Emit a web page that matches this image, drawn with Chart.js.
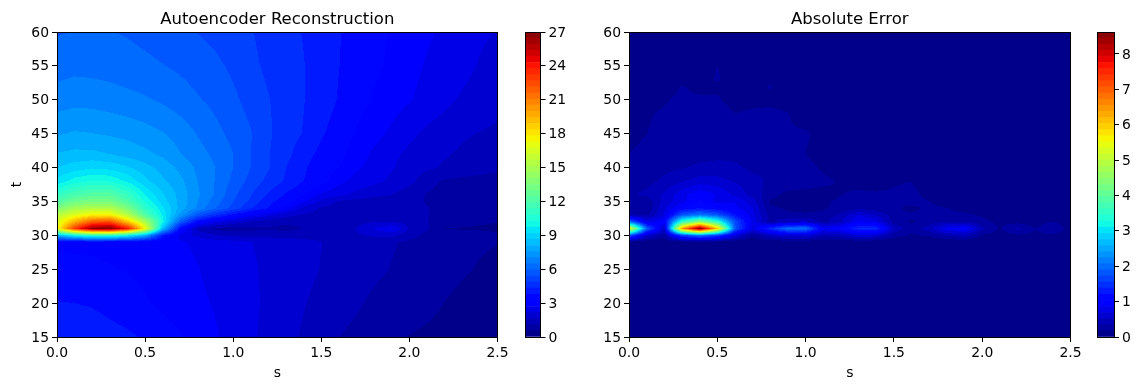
<!DOCTYPE html>
<html>
<head>
<meta charset="utf-8">
<title>Autoencoder Reconstruction</title>
<script src="https://cdn.jsdelivr.net/npm/chart.js@4"></script>
<style>
  html, body { margin: 0; padding: 0; background: #fff; }
  #wrap { position: relative; width: 1141px; height: 390px; overflow: hidden; }
  canvas { position: absolute; top: 0; }
</style>
</head>
<body>
<div id="wrap">
  <canvas id="reconChart" width="514" height="390" style="left:0"></canvas>
  <canvas id="reconBar" width="60" height="390" style="left:515px"></canvas>
  <canvas id="errorChart" width="514" height="390" style="left:572px"></canvas>
  <canvas id="errorBar" width="54" height="390" style="left:1087px"></canvas>
</div>
<script>
const sGrid = [0, 0.1, 0.2, 0.3, 0.4, 0.5, 0.6, 0.7, 0.8, 0.9, 1.0, 1.1, 1.2, 1.3, 1.4, 1.5, 1.6, 1.7, 1.8, 1.9, 2.0, 2.1, 2.2, 2.3, 2.4, 2.5];

const sTicks = [0, 0.5, 1, 1.5, 2, 2.5];
const tTicks = [15, 20, 25, 30, 35, 40, 45, 50, 55, 60];
const reconBarTicks = [0, 3, 6, 9, 12, 15, 18, 21, 24, 27];
const errorBarTicks = [0, 1, 2, 3, 4, 5, 6, 7, 8];

const reconMax = 27;
const errorMax = 8.62;
const levelCount = 50;

// rows go with reconT, columns with sGrid
const reconT = [15, 20, 25, 29, 30, 31, 32, 33, 34, 35, 36, 38, 40, 42, 45, 50, 55, 60];
const reconValues = [
  [4.3, 4.25, 4.15, 4.0, 3.88, 3.72, 3.52, 3.3, 3.05, 2.75, 2.5, 2.25, 2.0, 1.78, 1.55, 1.3, 1.08, 0.95, 0.8, 0.65, 0.52, 0.45, 0.38, 0.3, 0.25, 0.2],
  [3.8, 3.78, 3.72, 3.58, 3.45, 3.3, 3.12, 2.95, 2.8, 2.65, 2.5, 2.3, 2.03, 1.85, 1.65, 1.45, 1.28, 1.15, 0.98, 0.88, 0.78, 0.68, 0.53, 0.42, 0.34, 0.27],
  [3.45, 3.42, 3.38, 3.28, 3.22, 3.1, 3.0, 2.88, 2.72, 2.55, 2.4, 2.24, 2.05, 1.9, 1.77, 1.6, 1.45, 1.32, 1.18, 1.06, 0.95, 0.83, 0.7, 0.6, 0.5, 0.42],
  [3.1, 3.1, 3.1, 3.05, 3.0, 2.95, 2.85, 2.75, 2.6, 2.45, 2.32, 2.18, 2.0, 1.88, 1.75, 1.63, 1.5, 1.38, 1.25, 1.12, 1.0, 0.88, 0.78, 0.68, 0.6, 0.55],
  [8, 10, 11, 11, 10, 8, 4, 2.5, 2.0, 1.65, 1.5, 1.45, 1.45, 1.45, 1.45, 1.5, 1.5, 1.55, 1.7, 1.75, 1.25, 0.95, 0.8, 0.75, 0.7, 0.6],
  [17, 23, 26.5, 27, 24, 17.5, 8.5, 3.5, 1.5, 0.9, 0.8, 0.9, 1.0, 0.85, 1.1, 1.2, 1.35, 1.65, 2.2, 2.75, 1.6, 1.15, 0.53, 0.5, 0.48, 0.45],
  [16.5, 19.5, 22, 22.5, 19, 15, 10, 5.8, 3.4, 2.5, 1.95, 1.55, 1.35, 1.25, 1.25, 1.25, 1.3, 1.45, 1.6, 1.6, 1.35, 1.1, 0.85, 0.7, 0.6, 0.55],
  [15.5, 16.8, 17.7, 17.7, 15.5, 12.2, 9.6, 7.4, 5.6, 4.5, 3.6, 2.9, 2.3, 1.8, 1.55, 1.4, 1.3, 1.2, 1.25, 1.25, 1.2, 1.1, 0.9, 0.8, 0.7, 0.65],
  [13.5, 14.8, 15.3, 15.3, 13.5, 10.9, 9.3, 7.9, 6.9, 5.94, 5.2, 4.35, 3.75, 3.0, 2.0, 1.55, 1.4, 1.3, 1.25, 1.2, 1.15, 1.1, 0.95, 0.85, 0.8, 0.7],
  [12, 13, 13.4, 13.4, 12, 10.2, 8.9, 7.9, 7, 6.2, 5.4, 4.75, 3.95, 3.5, 2.8, 2.0, 1.55, 1.4, 1.35, 1.3, 1.2, 1.05, 0.9, 0.85, 0.8, 0.75],
  [11, 11.8, 12.2, 12.2, 11.2, 9.7, 8.7, 7.9, 7.1, 6.4, 5.55, 4.9, 4.25, 3.7, 3.3, 2.6, 2.3, 2.0, 1.75, 1.62, 1.3, 1.05, 0.95, 0.88, 0.8, 0.75],
  [9.3, 10, 10.3, 10.2, 9.6, 8.8, 8.2, 7.7, 7.0, 6.45, 5.8, 5.2, 4.7, 4.25, 3.78, 3.5, 2.85, 2.5, 2.3, 2.05, 1.8, 1.25, 1.0, 0.92, 0.85, 0.8],
  [8.64, 8.9, 9.1, 9.0, 8.7, 8.3, 7.9, 7.4, 6.9, 6.48, 5.94, 5.4, 4.9, 4.32, 3.85, 3.5, 3.26, 2.8, 2.5, 2.2, 1.95, 1.72, 1.55, 1.45, 1.35, 1.25],
  [8.14, 8.24, 8.24, 8.09, 7.89, 7.69, 7.44, 7.04, 6.69, 6.34, 5.94, 5.39, 4.89, 4.49, 3.99, 3.64, 3.39, 2.99, 2.59, 2.29, 2.04, 1.86, 1.67, 1.54, 1.44, 1.34],
  [7.49, 7.62, 7.57, 7.49, 7.39, 7.24, 7.06, 6.79, 6.44, 6.09, 5.79, 5.44, 4.94, 4.59, 4.29, 3.84, 3.54, 3.19, 2.89, 2.59, 2.29, 2.04, 1.89, 1.69, 1.6, 1.52],
  [6.74, 6.84, 6.82, 6.74, 6.64, 6.54, 6.39, 6.19, 5.99, 5.79, 5.52, 5.19, 4.89, 4.59, 4.34, 4.04, 3.74, 3.44, 3.19, 2.94, 2.74, 2.51, 2.29, 2.09, 1.94, 1.79],
  [6.24, 6.32, 6.29, 6.24, 6.16, 6.06, 5.96, 5.84, 5.69, 5.52, 5.29, 4.99, 4.74, 4.54, 4.34, 4.06, 3.79, 3.54, 3.34, 3.14, 2.89, 2.64, 2.49, 2.32, 2.12, 1.94],
  [5.89, 5.96, 5.99, 5.96, 5.89, 5.79, 5.69, 5.54, 5.39, 5.24, 5.04, 4.89, 4.69, 4.49, 4.29, 4.04, 3.81, 3.59, 3.39, 3.19, 2.99, 2.79, 2.59, 2.39, 2.24, 2.14]
];

// rows go with errorT, columns with sGrid
const errorT = [15, 20, 25, 29, 30, 31, 32, 33, 34, 35, 36, 38, 40, 42, 45, 48, 50, 52, 53, 55, 60];
const errorValues = [
  [0.02, 0.02, 0.02, 0.02, 0.02, 0.02, 0.02, 0.02, 0.02, 0.02, 0.02, 0.02, 0.02, 0.02, 0.02, 0.02, 0.02, 0.02, 0.02, 0.02, 0.02, 0.02, 0.02, 0.02, 0.02, 0.02],
  [0.02, 0.02, 0.02, 0.02, 0.02, 0.02, 0.02, 0.02, 0.02, 0.02, 0.02, 0.02, 0.02, 0.02, 0.02, 0.02, 0.02, 0.02, 0.02, 0.02, 0.02, 0.02, 0.02, 0.02, 0.02, 0.02],
  [0.02, 0.02, 0.02, 0.02, 0.02, 0.02, 0.02, 0.02, 0.02, 0.02, 0.02, 0.02, 0.02, 0.02, 0.02, 0.02, 0.02, 0.02, 0.02, 0.02, 0.02, 0.02, 0.02, 0.02, 0.02, 0.02],
  [0.03, 0.03, 0.03, 0.03, 0.03, 0.03, 0.03, 0.03, 0.03, 0.03, 0.03, 0.03, 0.03, 0.03, 0.03, 0.03, 0.03, 0.03, 0.03, 0.03, 0.03, 0.03, 0.03, 0.03, 0.03, 0.03],
  [1.8, 0.6, 0.25, 1.6, 2.1, 1.6, 0.7, 0.2, 0.5, 0.7, 0.7, 0.4, 0.45, 0.7, 0.6, 0.25, 0.15, 0.2, 0.35, 0.45, 0.15, 0.08, 0.15, 0.12, 0.14, 0.05],
  [5.6, 1.9, 0.5, 6.4, 8.6, 6.0, 1.8, 0.75, 1.4, 2.0, 2.0, 0.9, 1.0, 1.4, 1.4, 0.5, 0.22, 0.45, 0.85, 1.0, 0.4, 0.15, 0.4, 0.18, 0.36, 0.06],
  [2.0, 0.8, 1.0, 3.5, 4.5, 3.5, 1.7, 0.8, 0.3, 0.5, 0.55, 0.3, 0.5, 0.9, 0.8, 0.25, 0.15, 0.25, 0.35, 0.35, 0.22, 0.13, 0.1, 0.05, 0.18, 0.03],
  [0.4, 0.3, 0.7, 1.8, 2.1, 1.8, 1.2, 0.75, 0.28, 0.2, 0.2, 0.22, 0.4, 0.7, 0.5, 0.25, 0.2, 0.2, 0.2, 0.2, 0.15, 0.08, 0.05, 0.04, 0.03, 0.02],
  [0.25, 0.2, 0.65, 1.05, 1.2, 1.05, 0.9, 0.7, 0.2, 0.15, 0.12, 0.15, 0.22, 0.3, 0.25, 0.2, 0.12, 0.22, 0.18, 0.12, 0.12, 0.08, 0.1, 0.14, 0.04, 0.02],
  [0.2, 0.2, 0.6, 0.8, 1.05, 0.8, 0.85, 0.6, 0.15, 0.08, 0.1, 0.15, 0.2, 0.23, 0.22, 0.2, 0.25, 0.18, 0.05, 0.03, 0.03, 0.03, 0.02, 0.02, 0.02, 0.02],
  [0.3, 0.4, 0.55, 0.8, 1.0, 0.85, 0.65, 0.45, 0.25, 0.1, 0.08, 0.1, 0.17, 0.2, 0.2, 0.2, 0.24, 0.1, 0.03, 0.02, 0.02, 0.02, 0.02, 0.02, 0.02, 0.02],
  [0.25, 0.28, 0.38, 0.5, 0.6, 0.58, 0.5, 0.42, 0.3, 0.35, 0.3, 0.22, 0.15, 0.12, 0.08, 0.15, 0.17, 0.03, 0.02, 0.02, 0.02, 0.02, 0.02, 0.02, 0.02, 0.02],
  [0.2, 0.27, 0.3, 0.33, 0.38, 0.4, 0.38, 0.3, 0.3, 0.28, 0.24, 0.14, 0.06, 0.03, 0.02, 0.02, 0.02, 0.02, 0.02, 0.02, 0.02, 0.02, 0.02, 0.02, 0.02, 0.02],
  [0.172, 0.24, 0.25, 0.26, 0.28, 0.3, 0.3, 0.27, 0.25, 0.23, 0.17, 0.08, 0.03, 0.02, 0.02, 0.02, 0.02, 0.02, 0.02, 0.02, 0.02, 0.02, 0.02, 0.02, 0.02, 0.02],
  [0.1, 0.17, 0.24, 0.26, 0.27, 0.28, 0.27, 0.25, 0.22, 0.2, 0.2, 0.1, 0.02, 0.02, 0.02, 0.02, 0.02, 0.02, 0.02, 0.02, 0.02, 0.02, 0.02, 0.02, 0.02, 0.02],
  [0.06, 0.15, 0.2, 0.24, 0.25, 0.24, 0.17, 0.2, 0.22, 0.18, 0.05, 0.02, 0.02, 0.02, 0.02, 0.02, 0.02, 0.02, 0.02, 0.02, 0.02, 0.02, 0.02, 0.02, 0.02, 0.02],
  [0.04, 0.08, 0.15, 0.22, 0.2, 0.19, 0.12, 0.12, 0.12, 0.08, 0.03, 0.02, 0.02, 0.02, 0.02, 0.02, 0.02, 0.02, 0.02, 0.02, 0.02, 0.02, 0.02, 0.02, 0.02, 0.02],
  [0.02, 0.04, 0.08, 0.18, 0.12, 0.14, 0.08, 0.1, 0.19, 0.05, 0.02, 0.02, 0.02, 0.02, 0.02, 0.02, 0.02, 0.02, 0.02, 0.02, 0.02, 0.02, 0.02, 0.02, 0.02, 0.02],
  [0.02, 0.02, 0.05, 0.08, 0.1, 0.19, 0.1, 0.05, 0.1, 0.03, 0.02, 0.02, 0.02, 0.02, 0.02, 0.02, 0.02, 0.02, 0.02, 0.02, 0.02, 0.02, 0.02, 0.02, 0.02, 0.02],
  [0.02, 0.02, 0.03, 0.04, 0.06, 0.175, 0.05, 0.03, 0.03, 0.02, 0.02, 0.02, 0.02, 0.02, 0.02, 0.02, 0.02, 0.02, 0.02, 0.02, 0.02, 0.02, 0.02, 0.02, 0.02, 0.02],
  [0.02, 0.02, 0.02, 0.02, 0.02, 0.02, 0.02, 0.02, 0.02, 0.02, 0.02, 0.02, 0.02, 0.02, 0.02, 0.02, 0.02, 0.02, 0.02, 0.02, 0.02, 0.02, 0.02, 0.02, 0.02, 0.02]
];

const fontFamily = "'DejaVu Sans', sans-serif";
Chart.defaults.color = '#000';
Chart.defaults.font.family = fontFamily;
Chart.defaults.font.size = 13.9;

// matplotlib jet
function ramp(stops, x) {
  for (let i = 1; i < stops.length; i++) {
    if (x <= stops[i][0]) {
      const a = stops[i - 1], b = stops[i];
      return a[1] + (b[1] - a[1]) * (x - a[0]) / (b[0] - a[0]);
    }
  }
  return stops[stops.length - 1][1];
}
function jet(x) {
  return [
    ramp([[0, 0], [0.35, 0], [0.66, 1], [0.89, 1], [1, 0.5]], x) * 255,
    ramp([[0, 0], [0.125, 0], [0.375, 1], [0.64, 1], [0.91, 0], [1, 0]], x) * 255,
    ramp([[0, 0.5], [0.11, 1], [0.34, 1], [0.65, 0], [1, 0]], x) * 255
  ];
}
function bandColor(k) {
  return jet((k + 0.5) / levelCount);
}

function findCell(list, v) {
  let i = 0;
  while (i < list.length - 2 && v > list[i + 1]) i++;
  return i;
}

// filled contour bands, painted per pixel through the chart's own scales
const contourPlugin = {
  id: 'contourFill',
  beforeDatasetsDraw(chart) {
    const o = chart.options.plugins.contourFill;
    const area = chart.chartArea;
    const x = chart.scales.x, y = chart.scales.y;
    const left = Math.floor(area.left), top = Math.floor(area.top);
    const w = Math.ceil(area.right) - left, h = Math.ceil(area.bottom) - top;
    const img = chart.ctx.createImageData(w, h);
    const step = o.max / levelCount;
    for (let py = 0; py < h; py++) {
      const t = y.getValueForPixel(top + py + 0.5);
      const j = findCell(o.rows, t);
      const ft = Math.min(1, Math.max(0, (t - o.rows[j]) / (o.rows[j + 1] - o.rows[j])));
      for (let px = 0; px < w; px++) {
        const s = x.getValueForPixel(left + px + 0.5);
        const i = findCell(sGrid, s);
        const fs = Math.min(1, Math.max(0, (s - sGrid[i]) / (sGrid[i + 1] - sGrid[i])));
        const v = o.values[j][i] * (1 - fs) * (1 - ft) + o.values[j][i + 1] * fs * (1 - ft) +
                  o.values[j + 1][i] * (1 - fs) * ft + o.values[j + 1][i + 1] * fs * ft;
        const k = Math.min(levelCount - 1, Math.floor(v / step));
        const c = bandColor(k);
        const n = (py * w + px) * 4;
        img.data[n] = c[0];
        img.data[n + 1] = c[1];
        img.data[n + 2] = c[2];
        img.data[n + 3] = 255;
      }
    }
    chart.ctx.putImageData(img, left, top);
  }
};

const framePlugin = {
  id: 'frame',
  afterDatasetsDraw(chart) {
    const a = chart.chartArea, ctx = chart.ctx;
    ctx.save();
    ctx.strokeStyle = '#000';
    ctx.lineWidth = 1;
    const x0 = Math.floor(a.left) + 0.5, x1 = Math.floor(a.right) + 0.5;
    const y0 = Math.floor(a.top) + 0.5, y1 = Math.floor(a.bottom) + 0.5;
    ctx.strokeRect(x0, y0, x1 - x0, y1 - y0);
    ctx.restore();
  }
};

function gridPoints(rows, values) {
  const pts = [];
  rows.forEach((t, j) => sGrid.forEach((s, i) => pts.push({ x: s, y: t, v: values[j][i] })));
  return pts;
}

function makeContour(id, titleText, rows, values, max, padRight) {
  new Chart(document.getElementById(id), {
    type: 'scatter',
    plugins: [contourPlugin, framePlugin],
    data: { datasets: [{ data: gridPoints(rows, values), pointRadius: 0, pointHoverRadius: 0, showLine: false }] },
    options: {
      responsive: false,
      animation: false,
      devicePixelRatio: 1,
      events: [],
      layout: { padding: { left: 0, right: padRight, top: 0, bottom: 0 } },
      plugins: {
        legend: { display: false },
        tooltip: { enabled: false },
        contourFill: { rows: rows, values: values, max: max },
        title: {
          display: true,
          fullSize: false,
          text: titleText,
          color: '#000',
          font: { family: fontFamily, size: 16.5, weight: 'normal', lineHeight: 1.2 },
          padding: { top: 10.2, bottom: 2 }
        }
      },
      scales: {
        x: {
          type: 'linear', min: 0, max: 2.5,
          afterBuildTicks: axis => { axis.ticks = sTicks.map(v => ({ value: v })); },
          afterFit: axis => { axis.height = 53; },
          ticks: { callback: v => v.toFixed(1), maxRotation: 0, padding: 3, autoSkip: false },
          grid: { drawOnChartArea: false, drawTicks: true, tickLength: 5, color: '#000' },
          border: { display: false },
          title: { display: true, text: 's', font: { size: 13.9 }, padding: { top: 0, bottom: 8 } }
        },
        y: {
          type: 'linear', min: 15, max: 60,
          afterBuildTicks: axis => { axis.ticks = tTicks.map(v => ({ value: v })); },
          afterFit: axis => { axis.width = 57; },
          ticks: { callback: v => String(v), padding: 3, autoSkip: false, labelOffset: 1 },
          grid: { drawOnChartArea: false, drawTicks: true, tickLength: 5, color: '#000' },
          border: { display: false },
          title: { display: id === 'reconChart', text: 't', font: { size: 13.9 }, padding: { top: 9, bottom: 0 } }
        }
      }
    }
  });
}

function makeColorbar(id, max, tickList, padLeft, axisWidth) {
  const datasets = [];
  for (let k = 0; k < levelCount; k++) {
    const c = bandColor(k);
    datasets.push({
      data: [[k * max / levelCount, (k + 1) * max / levelCount]],
      backgroundColor: `rgb(${Math.round(c[0])},${Math.round(c[1])},${Math.round(c[2])})`,
      borderWidth: 0,
      barPercentage: 1,
      categoryPercentage: 1,
      grouped: false
    });
  }
  new Chart(document.getElementById(id), {
    type: 'bar',
    plugins: [framePlugin],
    data: { labels: [''], datasets: datasets },
    options: {
      responsive: false,
      animation: false,
      devicePixelRatio: 1,
      events: [],
      layout: { padding: { left: padLeft, right: 0, top: 32, bottom: 53 } },
      plugins: { legend: { display: false }, tooltip: { enabled: false } },
      scales: {
        x: { display: false },
        y: {
          position: 'right',
          min: 0, max: max,
          afterBuildTicks: axis => { axis.ticks = tickList.map(v => ({ value: v })); },
          afterFit: axis => { axis.width = axisWidth; },
          ticks: { callback: v => String(v), padding: 3, autoSkip: false, labelOffset: 1 },
          grid: { drawOnChartArea: false, drawTicks: true, tickLength: 5, color: '#000' },
          border: { display: false }
        }
      }
    }
  });
}

makeContour('reconChart', 'Autoencoder Reconstruction', reconT, reconValues, reconMax, 16.5);
makeContour('errorChart', 'Absolute Error', errorT, errorValues, errorMax, 15.5);
makeColorbar('reconBar', reconMax, reconBarTicks, 10, 34.5);
makeColorbar('errorBar', errorMax, errorBarTicks, 10, 27);
</script>
</body>
</html>
